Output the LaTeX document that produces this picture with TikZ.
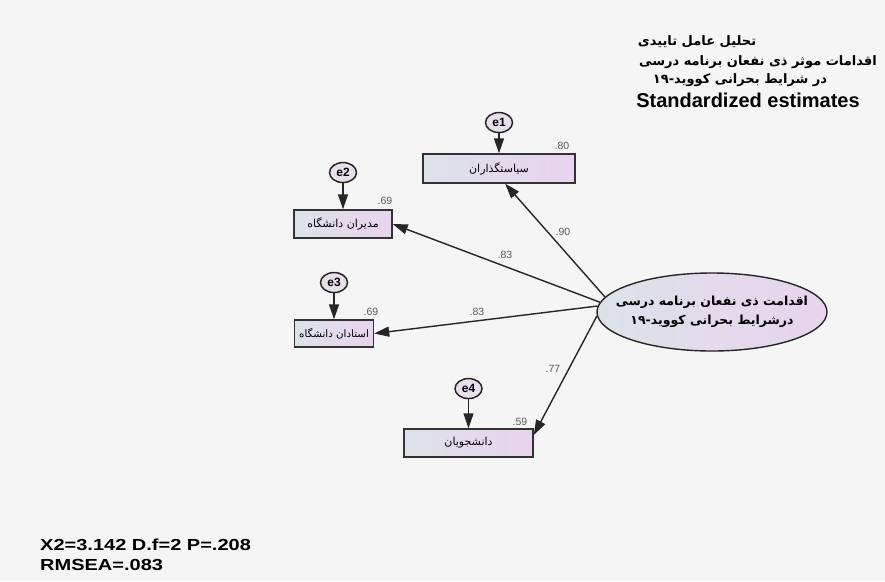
\documentclass[tikz,border=0pt]{standalone}
\usepackage{fontspec}
\setmainfont{Liberation Sans}
\newfontfamily\farsi[Script=Arabic]{DejaVu Sans}
\TeXXeTstate=1
\usetikzlibrary{positioning,arrows.meta,shapes.geometric}

\definecolor{boxl}{HTML}{DCE2EA}
\definecolor{boxr}{HTML}{E9D3EE}
\definecolor{errfill}{HTML}{E7E0EC}
\definecolor{estgray}{HTML}{5A5A5A}
\definecolor{bggray}{HTML}{F5F5F5}

\tikzset{
  obs/.style={rectangle, draw=black!80, line width=1.4pt, left color=boxl, right color=boxr,
    inner sep=1pt, font=\farsi\fontsize{11}{11}\selectfont},
  latent/.style={ellipse, draw=black!85, line width=1.4pt, left color=boxl, right color=boxr,
    minimum width=230pt, minimum height=78pt, inner xsep=-15pt, inner ysep=0pt, align=center,
    font=\farsi\bfseries\fontsize{12.5}{19}\selectfont},
  errv/.style={ellipse, draw=black!85, line width=1.5pt, fill=errfill, minimum width=27pt,
    minimum height=20pt, inner sep=0pt, font=\bfseries\fontsize{12}{12}\selectfont},
  reg/.style={draw=black!85, line width=1.4pt, -{Triangle[length=15pt,width=10pt]}},
  est/.style={text=estgray, inner sep=0pt, font=\fontsize{10.5}{10.5}\selectfont},
  headline/.style={inner sep=0pt, font=\farsi\bfseries\fontsize{13}{13}\selectfont},
}

\begin{document}
\begin{tikzpicture}[x=1pt, y=-1pt]
	\fill[bggray] (0,0) rectangle (885,581);
	\useasboundingbox (0,0) rectangle (885,581);

	% Nodes
	% Observed indicators
	\node[obs, minimum width=152pt, minimum height=29pt] (x-policy) at (499,168.5) {\beginR سیاستگذاران\endR};
	\node[obs, minimum width=98pt, minimum height=28pt] (x-managers) at (343,224) {\beginR مدیران دانشگاه\endR};
	\node[obs, minimum width=79pt, minimum height=27pt, font=\farsi\fontsize{10.3}{11}\selectfont] (x-teachers) at (334,333.5) {\beginR استادان دانشگاه\endR};
	\node[obs, minimum width=129pt, minimum height=28pt] (x-students) at (468.5,443) {\beginR دانشجویان\endR};
	% Latent factor
	\node[latent] (f-stake) at (712,312) {\beginR اقدامت ذی نفعان برنامه درسی\endR\\\beginR درشرایط بحرانی کووید-۱۹\endR};
	% Error terms
	\node[errv, above=20pt of x-policy] (e-1) {e1};
	\node[errv, above=26pt of x-managers] (e-2) {e2};
	\node[errv, above=26pt of x-teachers] (e-3) {e3};
	\node[errv, above=29pt of x-students] (e-4) {e4};

	% Squared multiple correlations
	\node[est] (r2-policy) at (562,146) {.80};
	\node[est] (r2-managers) at (385,201) {.69};
	\node[est] (r2-teachers) at (371,312) {.69};
	\node[est] (r2-students) at (520,422) {.59};

	% Edges
	% Errors to indicators
	\draw[reg] (e-1) -- (x-policy);
	\draw[reg] (e-2) -- (x-managers);
	\draw[reg] (e-3) -- (x-teachers);
	\draw[reg] (e-4) -- (x-students);
	% Factor to indicators
	\draw[reg] (f-stake.172) -- (x-policy.292);
	\draw[reg] (f-stake.175) -- (x-managers.east);
	\draw[reg] (f-stake.177) -- (x-teachers.east);
	\draw[reg] (f-stake.182) -- (x-students.7);
	% Loadings
	\node[est] (l-policy) at (563,232) {.90};
	\node[est] (l-managers) at (505,255) {.83};
	\node[est] (l-teachers) at (477,312) {.83};
	\node[est] (l-students) at (553,369) {.77};

	% Title
	\node[headline] (t-1) at (697,42) {\beginR تحلیل عامل تاییدی\endR};
	\node[headline] (t-2) at (758,62) {\beginR اقدامات موثر ذی نفعان برنامه درسی\endR};
	\node[headline] (t-3) at (740,80) {\beginR در شرایط بحرانی کووید-۱۹\endR};
	\node[inner sep=0pt, font=\bfseries\fontsize{20}{20}\selectfont] (t-4) at (748,100) {Standardized estimates};

	% Fit indices
	\node[anchor=west, align=left, inner sep=0pt, font=\bfseries\fontsize{16}{20}\selectfont] (fit) at (40,555)
		{\scalebox{1.25}[1]{X2=3.142 D.f=2 P=.208}\\\scalebox{1.25}[1]{RMSEA=.083}};
\end{tikzpicture}
\end{document}
